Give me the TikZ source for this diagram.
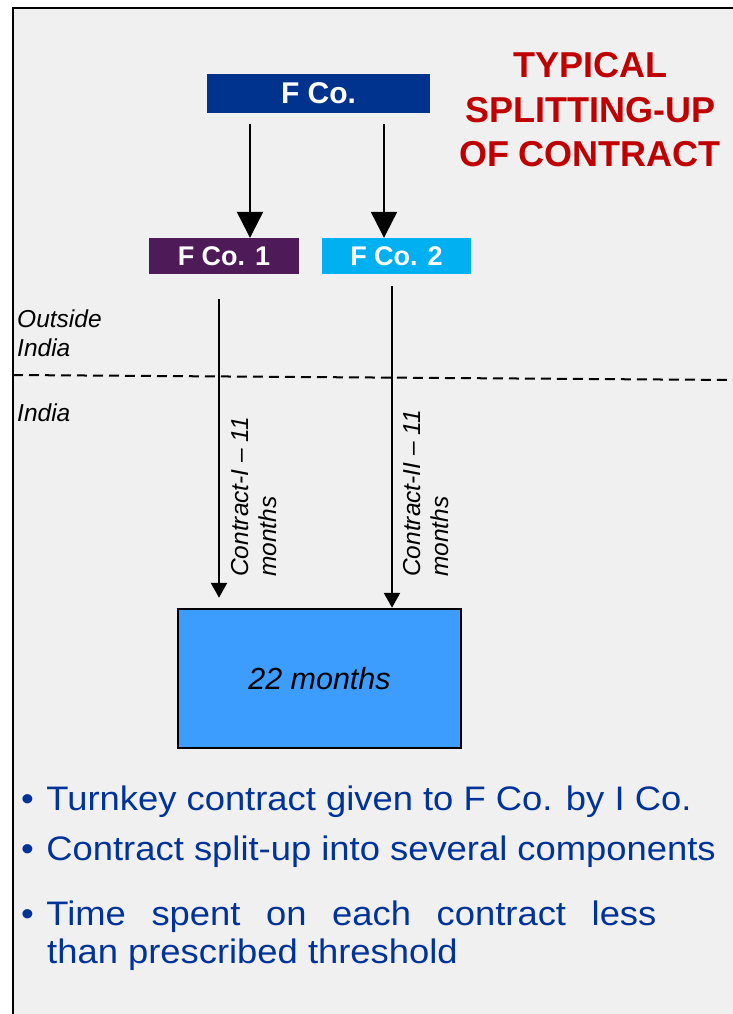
\documentclass[tikz,border=0pt]{standalone}
\usepackage{fontspec}
\setmainfont{Liberation Sans}
\newfontfamily\widefont[FakeStretch=1.07]{Liberation Sans}
\usetikzlibrary{arrows.meta}
\definecolor{bg}{RGB}{240,240,240}
\definecolor{fcoblue}{RGB}{0,51,141}
\definecolor{fcopurple}{RGB}{78,26,88}
\definecolor{fcocyan}{RGB}{0,176,240}
\definecolor{titlered}{RGB}{192,0,0}
\definecolor{boxblue}{RGB}{61,157,255}
\definecolor{textblue}{RGB}{0,51,153}
\tikzset{
  cobox/.style={inner sep=0pt, text=white, font=\fontsize{30}{36}\selectfont\bfseries},
  subbox/.style={inner sep=0pt, minimum height=36pt, text=white, font=\fontsize{27}{32}\selectfont\bfseries},
  bigarr/.style={line width=2.3pt, -{Triangle[length=26pt,width=26pt]}},
  smallarr/.style={line width=2.6pt, -{Triangle[length=15pt,width=16pt]}},
  lbl/.style={inner sep=0pt, font=\fontsize{24.5}{28}\selectfont\itshape},
  bullet/.style={inner sep=0pt, anchor=base west, text=textblue, font=\widefont\fontsize{34}{40}\selectfont},
}
\begin{document}
\begin{tikzpicture}[x=1pt,y=-1pt]
\useasboundingbox (0,0) rectangle (733,1014);
\fill[bg] (13,8) rectangle (733,1014);
\draw[line width=2pt] (13,1014) -- (13,8) -- (733,8);

% title
\node[inner sep=0pt, anchor=north, align=center, text=titlered,
      font=\fontsize{36}{44.5}\selectfont\bfseries] (title) at (590,52.5)
      {TYPICAL\\SPLITTING-UP\\OF CONTRACT};

% company boxes
\node[cobox, fill=fcoblue, minimum width=223pt, minimum height=39pt] (fco) at (318.5,93.5) {F Co.};
\node[subbox, fill=fcopurple, minimum width=150pt] (fco1) at (224,256) {F Co. 1};
\node[subbox, fill=fcocyan, minimum width=149pt] (fco2) at (396.5,256) {F Co. 2};

% arrows from F Co.
\coordinate (s1) at (250,124);
\coordinate (s2) at (384,124);
\draw[bigarr] (s1) -- (s1 |- fco1.north);
\draw[bigarr] (s2) -- (s2 |- fco2.north);

% region labels and divider
\node[lbl, anchor=base west] (out1) at (17,327) {Outside};
\node[lbl, anchor=base west] (out2) at (17,356) {India};
\node[lbl, anchor=base west] (ind) at (17,421) {India};
\coordinate (dl) at (13,375);
\coordinate (dr) at (733,380);
\draw[line width=2pt, dash pattern=on 10pt off 6pt] (dl) -- (dr);

% result box
\node[draw, line width=2.5pt, fill=boxblue, minimum width=283pt, minimum height=139pt,
      inner sep=0pt, font=\fontsize{30.5}{36}\selectfont\itshape] (m) at (319.5,678.5) {22 months};

% contract arrows
\coordinate (s3) at (219,299);
\coordinate (s4) at (392,286);
\draw[smallarr, shorten >=10pt] (s3) -- (s3 |- m.north);
\draw[smallarr] (s4) -- (s4 |- m.north);
\node[lbl, rotate=90, anchor=north west, align=left] (c1) at (231,577) {Contract-I – 11\\months};
\node[lbl, rotate=90, anchor=north west, align=left] (c2) at (403,577) {Contract-II – 11\\months};

% bullets
\node[bullet] (b1) at (21,810) {•\hspace{12.5pt}Turnkey contract given to F Co. by I Co.};
\node[bullet] (b2) at (21,860) {•\hspace{12.5pt}Contract split-up into several components};
\node[bullet] (b3) at (21,925) {•\hspace{12.5pt}\makebox[610pt][s]{Time spent on each contract less}};
\node[bullet] (b4) at (47,963) {than prescribed threshold};
\end{tikzpicture}
\end{document}
